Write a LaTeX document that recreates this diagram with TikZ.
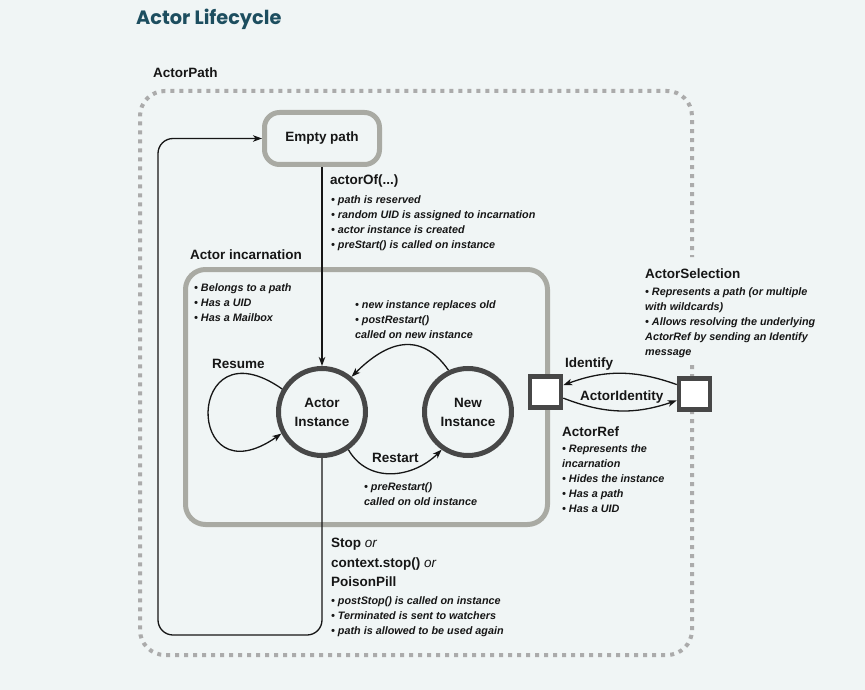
\documentclass[tikz,border=0pt]{standalone}
\usepackage{fontspec}
\setmainfont{Liberation Sans}
\newfontfamily\titlefont{Poppins}
\usetikzlibrary{arrows.meta,positioning}
\definecolor{bgcol}{HTML}{F0F5F5}
\definecolor{titlecol}{HTML}{1D4E5F}
\definecolor{framegray}{HTML}{A9AAA3}
\definecolor{dotgray}{HTML}{ABABAB}
\definecolor{ringgray}{HTML}{474747}
\definecolor{inkcol}{HTML}{161616}
\tikzset{statebox/.style={
    % The shape:
    rectangle,
    rounded corners=15pt,
    % The size:
    minimum width=115pt,
    minimum height=52pt,
    % The border:
    line width=5pt,
    draw=framegray,
    % Font
    text=inkcol,
    font=\fontsize{13.5}{16}\selectfont\bfseries
    },
    groupbox/.style={
    rectangle,
    rounded corners=20pt,
    minimum width=362pt,
    minimum height=255pt,
    line width=5pt,
    draw=framegray,
    },
    instance/.style={
    circle,
    minimum size=87pt,
    line width=5pt,
    draw=ringgray,
    align=center,
    text=inkcol,
    font=\fontsize{13.5}{19}\selectfont\bfseries
    },
    refbox/.style={
    rectangle,
    minimum size=31pt,
    line width=4.5pt,
    draw=ringgray,
    fill=white,
    },
    pathframe/.style={
    draw=dotgray,
    line width=4pt,
    dash pattern=on 4pt off 5pt,
    rounded corners=25pt,
    },
    titletext/.style={
    anchor=base west,
    inner sep=0pt,
    text=titlecol,
    font=\titlefont\fontsize{19.3}{22}\selectfont\bfseries
    },
    heading/.style={
    anchor=base west,
    inner sep=0pt,
    text=inkcol,
    align=left,
    font=\fontsize{13.5}{19.5}\selectfont\bfseries
    },
    notes/.style={
    anchor=north west,
    inner sep=0pt,
    align=left,
    text=inkcol,
    font=\fontsize{10.8}{15}\selectfont\bfseries\itshape
    },
    flow/.style={
    -{Stealth[length=9pt,width=6.5pt,inset=2.5pt]},
    line width=1.3pt,
    draw=inkcol,
    },
}

\begin{document}
\begin{tikzpicture}[x=1pt,y=-1pt]
    \path[use as bounding box,fill=bgcol] (0,0) rectangle (865,690);
    % ActorPath frame, left open behind the ActorSelection note
    \draw[pathframe] (692,365) -- (692,655) -- (140,655) -- (140,91) -- (692,91) -- (692,257);

    \node (title)   [titletext] at (136,25) {Actor Lifecycle};
    \node (pathlbl) [heading]   at (153,78)   {ActorPath};

    \node (incarnation) [groupbox] at (366.5,397) {};
    \node (inclbl)   [heading] at (190,259) {Actor incarnation};
    \node (incnotes) [notes]   at (194,283) {• Belongs to a path\\• Has a UID\\• Has a Mailbox};

    \node (empty)   [statebox] at (322,138.5) {Empty path};
    \node (actor)   [instance] at (322,412)   {Actor\\Instance};
    \node (newinst) [instance] at (468,412)   {New\\Instance};

    \node (ref) [refbox] at (545.5,392) {};
    \node (sel) [refbox] at (694.5,394) {};

    % creation
    \draw[flow] (empty) -- (actor);
    \node (actorof)      [heading] at (330,185) {actorOf(...)};
    \node (actorofnotes) [notes, below right=10pt and 1pt of actorof.base west]
        {• path is reserved\\• random UID is assigned to incarnation\\• actor instance is created\\• preStart() is called on instance};

    % restart cycle
    \draw[flow] (newinst.115) to[out=125,in=45,looseness=1.3] (actor.50);
    \node (replnotes) [notes] at (355,300) {• new instance replaces old\\• postRestart()\\called on new instance};
    \draw[flow] (actor.-55) to[out=-60,in=-135,looseness=1.1] (newinst.-125);
    \node (restart)   [heading] at (372,462) {Restart};
    \node (prenotes)  [notes]   at (364,482) {• preRestart()\\called on old instance};

    % resume
    \draw[flow] (actor.150) to[out=145,in=-145,distance=119pt] (actor.-152);
    \node (resume) [heading] at (212,368) {Resume};

    % stop and back to the empty path
    \coordinate (back) at (158,635);
    \draw[flow, rounded corners=15pt] (actor.south) |- (back) |- (empty.west);
    \node (stop)      [heading, anchor=north west] at (331,538)
        {Stop {\mdseries\itshape or}\\context.stop() {\mdseries\itshape or}\\PoisonPill};
    \node (stopnotes) [notes] at (331,596)
        {• postStop() is called on instance\\• Terminated is sent to watchers\\• path is allowed to be used again};

    % references
    \draw[flow] (sel.152) to[bend right=20] (ref.21);
    \draw[flow] (ref.-19) to[bend right=20] (sel.-160);
    \node (identify)  [heading] at (565,367) {Identify};
    \node (identity)  [heading] at (580,400) {ActorIdentity};
    \node (reflbl)    [heading] at (562,436) {ActorRef};
    \node (refnotes)  [notes, below right=8pt and 0pt of reflbl.base west]
        {• Represents the\\incarnation\\• Hides the instance\\• Has a path\\• Has a UID};
    \node (sellbl)    [heading] at (645,278) {ActorSelection};
    \node (selnotes)  [notes, below right=9pt and 0pt of sellbl.base west]
        {• Represents a path (or multiple\\with wildcards)\\• Allows resolving the underlying\\ActorRef by sending an Identify\\message};
\end{tikzpicture}
\end{document}
